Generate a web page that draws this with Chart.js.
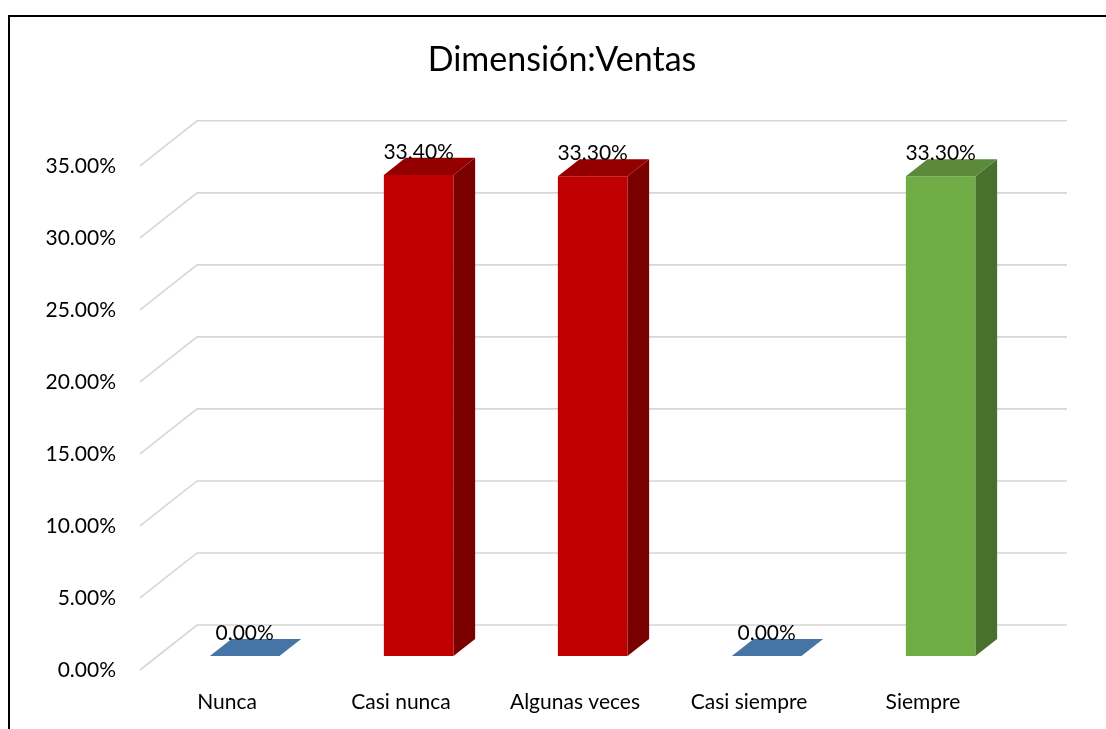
<!DOCTYPE html>
<html>
<head>
<meta charset="utf-8">
<script src="https://cdn.jsdelivr.net/npm/chart.js@4/dist/chart.umd.min.js"></script>
<style>
  body { margin: 0; background: #fff; }
  #wrap { width: 1106px; height: 729px; }
</style>
</head>
<body>
<div id="wrap"><canvas id="chart" width="1106" height="729"></canvas></div>
<script>
const categories = ["Nunca", "Casi nunca", "Algunas veces", "Casi siempre", "Siempre"];
const values = [0, 33.4, 33.3, 0, 33.3];
const yTicks = [0, 5, 10, 15, 20, 25, 30, 35];

// colours for each bar: front, top, side
const frontColors = ["#4674a4", "#c00000", "#c00000", "#4674a4", "#70ad47"];
const topColors = ["#4674a4", "#940000", "#940000", "#4674a4", "#5b8a3b"];
const sideColors = ["#39608a", "#7a0000", "#7a0000", "#39608a", "#4a702d"];

// depth of the 3d box and where the bars sit inside it
const DX = 57;
const DY = 45;
const D0 = 0.31;
const D1 = 0.69;

const font = "Lato, 'Open Sans', sans-serif";

function poly(ctx, pts, color) {
  ctx.beginPath();
  ctx.moveTo(pts[0][0], pts[0][1]);
  pts.slice(1).forEach(p => ctx.lineTo(p[0], p[1]));
  ctx.closePath();
  ctx.fillStyle = color;
  ctx.fill();
}

const threeD = {
  id: "threeD",
  beforeDatasetsDraw(chart) {
    const ctx = chart.ctx;
    const area = chart.chartArea;
    const y = chart.scales.y;
    ctx.save();
    ctx.strokeStyle = "#d6d6d6";
    ctx.lineWidth = 1.6;
    yTicks.forEach(t => {
      const py = y.getPixelForValue(t);
      ctx.beginPath();
      ctx.moveTo(area.left, py);
      ctx.lineTo(area.left + DX, py - DY);
      ctx.lineTo(area.right + DX, py - DY);
      ctx.stroke();
    });
    ctx.restore();
  },
  afterDatasetsDraw(chart) {
    const ctx = chart.ctx;
    const meta = chart.getDatasetMeta(0);
    const dd = D1 - D0;
    ctx.save();
    meta.data.forEach((el, i) => {
      const w = el.width;
      const x0 = el.x - w / 2 + D0 * DX;
      const x1 = el.x + w / 2 + D0 * DX;
      const yTop = el.y - D0 * DY;
      const yBot = el.base - D0 * DY;
      const ox = dd * DX;
      const oy = dd * DY;
      if (values[i] > 0) {
        poly(ctx, [[x0, yBot], [x1, yBot], [x1, yTop], [x0, yTop]], frontColors[i]);
        poly(ctx, [[x1, yBot], [x1, yTop], [x1 + ox, yTop - oy], [x1 + ox, yBot - oy]], sideColors[i]);
      }
      poly(ctx, [[x0, yTop], [x1, yTop], [x1 + ox, yTop - oy], [x0 + ox, yTop - oy]], topColors[i]);

      ctx.fillStyle = "#000";
      ctx.font = "21px " + font;
      ctx.textAlign = "center";
      ctx.textBaseline = "alphabetic";
      ctx.fillText(values[i].toFixed(2) + "%", (x0 + x1) / 2, yTop - oy + 1);
    });
    ctx.restore();
  },
  afterDraw(chart) {
    const ctx = chart.ctx;
    ctx.save();
    ctx.strokeStyle = "#000";
    ctx.lineWidth = 2;
    ctx.beginPath();
    ctx.moveTo(9, 729);
    ctx.lineTo(9, 16);
    ctx.lineTo(1106, 16);
    ctx.stroke();
    ctx.restore();
  }
};

new Chart(document.getElementById("chart"), {
  type: "bar",
  data: {
    labels: categories,
    datasets: [{
      data: values,
      backgroundColor: "rgba(0,0,0,0)",
      categoryPercentage: 1,
      barPercentage: 0.4
    }]
  },
  options: {
    responsive: false,
    animation: false,
    layout: { padding: { left: 18, right: 0, top: 0, bottom: 0 } },
    plugins: {
      legend: { display: false },
      tooltip: { enabled: false },
      title: {
        display: true,
        text: "Dimensión:Ventas",
        color: "#000",
        font: { family: font, size: 34, weight: "normal" },
        padding: { top: 40, bottom: 85 }
      }
    },
    scales: {
      x: {
        grid: { display: false, drawTicks: false },
        border: { display: false },
        ticks: { color: "#000", font: { family: font, size: 21 }, padding: 20 },
        afterFit(scale) { scale.height = 59; }
      },
      y: {
        min: 0,
        max: 35,
        grid: { display: false, drawTicks: false },
        border: { display: false },
        ticks: {
          stepSize: 5,
          color: "#000",
          padding: 24,
          font: { family: font, size: 21 },
          callback: v => v.toFixed(2) + "%"
        },
        afterFit(scale) { scale.width = 122; }
      },
      // empty right axis keeps room for the depth of the 3d box
      side: {
        position: "right",
        grid: { display: false, drawTicks: false },
        border: { display: false },
        ticks: { display: false },
        afterFit(scale) { scale.width = 96; }
      }
    }
  },
  plugins: [threeD]
});
</script>
</body>
</html>
